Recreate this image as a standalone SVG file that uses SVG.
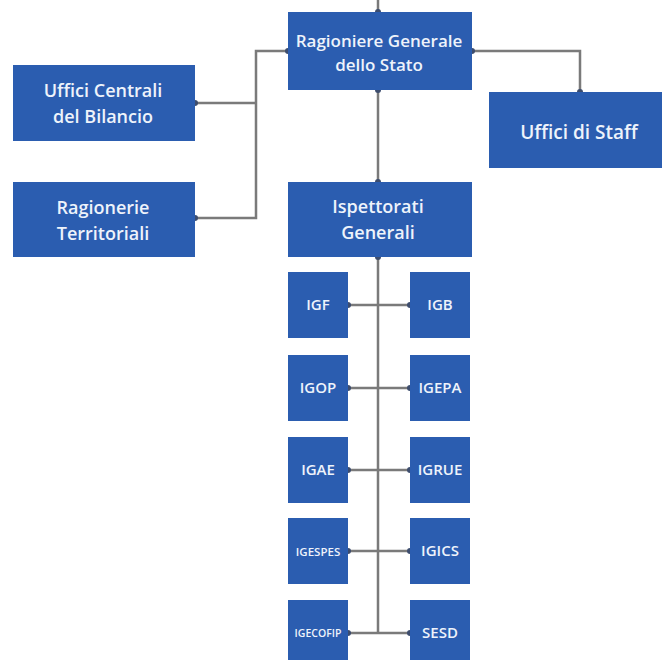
<svg xmlns="http://www.w3.org/2000/svg" width="662" height="660" viewBox="0 0 662 660">
<style>
.box{fill:#2b5db0}
.t{fill:#eef3fb;font-family:"Open Sans","Noto Sans",sans-serif;font-weight:600;text-anchor:middle}
.c{fill:none;stroke:#7a7a7a;stroke-width:2.5}
.d{fill:#3d4d6e}
</style>
<rect width="662" height="660" fill="#fff"/>
<g id="connectors">
<path class="c" d="M378 0V12"/>
<path class="c" d="M288 51H256V218H195"/>
<path class="c" d="M256 103H195"/>
<path class="c" d="M472 51H580V92"/>
<path class="c" d="M378 90V182"/>
<path class="c" d="M378 257V633"/>
<path class="c" d="M348 305H410M348 388H410M348 470H410M348 551H410M348 633H410"/>
<g class="d">
<circle cx="288" cy="51" r="3"/><circle cx="472" cy="51" r="3"/><circle cx="378" cy="90" r="3"/><circle cx="378" cy="12" r="3"/>
<circle cx="195" cy="103" r="3"/><circle cx="195" cy="218" r="3"/><circle cx="580" cy="92" r="3"/>
<circle cx="378" cy="182" r="3"/><circle cx="378" cy="257" r="3"/>
<circle cx="348" cy="305" r="3"/><circle cx="410" cy="305" r="3"/>
<circle cx="348" cy="388" r="3"/><circle cx="410" cy="388" r="3"/>
<circle cx="348" cy="470" r="3"/><circle cx="410" cy="470" r="3"/>
<circle cx="348" cy="551" r="3"/><circle cx="410" cy="551" r="3"/>
<circle cx="348" cy="633" r="3"/><circle cx="410" cy="633" r="3"/>
</g>
</g>
<g id="rgs"><rect class="box" x="288" y="12" width="184" height="78"/><text class="t" font-size="17" x="379" y="47">Ragioniere Generale</text><text class="t" font-size="17" x="379" y="71">dello Stato</text></g>
<g id="ucb"><rect class="box" x="13" y="65" width="182" height="76"/><text class="t" font-size="18" x="103" y="97">Uffici Centrali</text><text class="t" font-size="18" x="103" y="123">del Bilancio</text></g>
<g id="rt"><rect class="box" x="13" y="182" width="182" height="75"/><text class="t" font-size="18" x="103" y="214">Ragionerie</text><text class="t" font-size="18" x="103" y="240">Territoriali</text></g>
<g id="staff"><rect class="box" x="489" y="92" width="180" height="76"/><text class="t" font-size="19" x="579" y="139">Uffici di Staff</text></g>
<g id="isp"><rect class="box" x="288" y="182" width="184" height="75"/><text class="t" font-size="18" x="378" y="213">Ispettorati</text><text class="t" font-size="18" x="378" y="239">Generali</text></g>
<g id="igf"><rect class="box" x="288" y="272" width="60" height="66"/><text class="t" font-size="15" x="318" y="310">IGF</text></g>
<g id="igb"><rect class="box" x="410" y="272" width="60" height="66"/><text class="t" font-size="15" x="440" y="310">IGB</text></g>
<g id="igop"><rect class="box" x="288" y="355" width="60" height="66"/><text class="t" font-size="15" x="318" y="393">IGOP</text></g>
<g id="igepa"><rect class="box" x="410" y="355" width="60" height="66"/><text class="t" font-size="15" x="440" y="393">IGEPA</text></g>
<g id="igae"><rect class="box" x="288" y="437" width="60" height="66"/><text class="t" font-size="15" x="318" y="475">IGAE</text></g>
<g id="igrue"><rect class="box" x="410" y="437" width="60" height="66"/><text class="t" font-size="15" x="440" y="475">IGRUE</text></g>
<g id="igespes"><rect class="box" x="288" y="518" width="60" height="66"/><text class="t" font-size="11.5" x="318" y="556">IGESPES</text></g>
<g id="igics"><rect class="box" x="410" y="518" width="60" height="66"/><text class="t" font-size="15" x="440" y="556">IGICS</text></g>
<g id="igecofip"><rect class="box" x="288" y="600" width="60" height="66"/><text class="t" font-size="10.5" x="318" y="637">IGECOFIP</text></g>
<g id="sesd"><rect class="box" x="410" y="600" width="60" height="66"/><text class="t" font-size="15" x="440" y="638">SESD</text></g>
</svg>
